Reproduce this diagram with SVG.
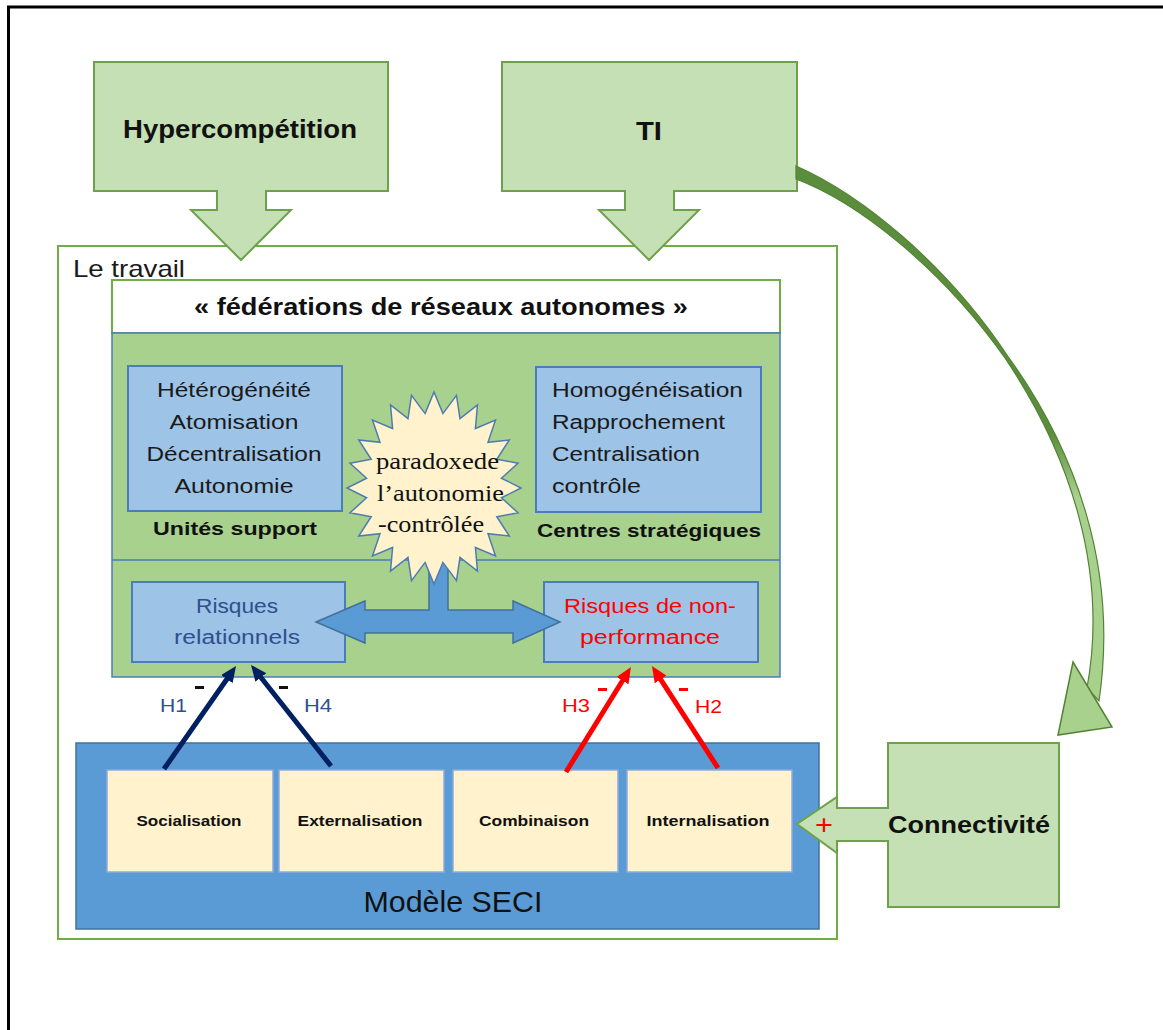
<svg xmlns="http://www.w3.org/2000/svg" width="1163" height="1030" viewBox="0 0 1163 1030">
<style>
.sans{font-family:"Liberation Sans",Arial,sans-serif}
.serif{font-family:"Liberation Serif","Times New Roman",serif}
.b{font-weight:bold}
.callout{fill:#c5e0b4;stroke:#6fa04a;stroke-width:2}
.bluebox{fill:#9dc3e6;stroke:#4a7ebb;stroke-width:2}
.yel{fill:#fff2cc;stroke:#8eaadb;stroke-width:1.5}
.navy{stroke:#002060;stroke-width:5;fill:none}
.red{stroke:#ff0000;stroke-width:5;fill:none}
</style>
<defs>
<marker id="mNavy" markerUnits="userSpaceOnUse" viewBox="0 0 16 14" markerWidth="16" markerHeight="14" refX="6" refY="7" orient="auto"><path d="M0,0 L16,7 L0,14 Z" fill="#002060"/></marker>
<marker id="mRed" markerUnits="userSpaceOnUse" viewBox="0 0 16 14" markerWidth="16" markerHeight="14" refX="6" refY="7" orient="auto"><path d="M0,0 L16,7 L0,14 Z" fill="#ff0000"/></marker>
<linearGradient id="curveGrad" gradientUnits="userSpaceOnUse" x1="0" y1="166" x2="0" y2="700">
<stop offset="0" stop-color="#5a8d3c"/><stop offset="0.5" stop-color="#5a8d3c"/><stop offset="0.62" stop-color="#a9d18e"/><stop offset="1" stop-color="#a9d18e"/>
</linearGradient>
</defs>
<rect width="1163" height="1030" fill="#ffffff"/>
<path d="M8.5,1030 V7 H1163" fill="none" stroke="#000" stroke-width="3"/>

<g id="le-travail">
<rect x="58" y="246" width="779" height="693" fill="#ffffff" stroke="#70ad47" stroke-width="2"/>
<text class="sans" x="73" y="277" font-size="24" textLength="112" lengthAdjust="spacingAndGlyphs" fill="#1a1a1a">Le travail</text>
</g>

<g id="federations">
<rect x="112" y="280" width="668" height="53" fill="#ffffff" stroke="#70ad47" stroke-width="2"/>
<rect x="112" y="333" width="668" height="344" fill="#a9d18e" stroke="#4a7ebb" stroke-width="1.5"/>
<line x1="112" y1="560" x2="780" y2="560" stroke="#4a7ebb" stroke-width="1.5"/>
<text class="sans b" x="441" y="315" font-size="23" text-anchor="middle" textLength="494" lengthAdjust="spacingAndGlyphs" fill="#111">« fédérations de réseaux autonomes »</text>
</g>

<g id="unites-support">
<rect class="bluebox" x="128" y="366" width="214" height="145"/>
<g class="sans" font-size="20" text-anchor="middle" fill="#1a1a1a">
<text x="234" y="397" textLength="154" lengthAdjust="spacingAndGlyphs">Hétérogénéité</text>
<text x="234" y="429" textLength="129" lengthAdjust="spacingAndGlyphs">Atomisation</text>
<text x="234" y="461" textLength="175" lengthAdjust="spacingAndGlyphs">Décentralisation</text>
<text x="234" y="493" textLength="119" lengthAdjust="spacingAndGlyphs">Autonomie</text>
</g>
<text class="sans b" x="235" y="535" font-size="19" text-anchor="middle" textLength="164" lengthAdjust="spacingAndGlyphs" fill="#111">Unités support</text>
</g>

<g id="centres-strategiques">
<rect class="bluebox" x="536" y="367" width="225" height="145"/>
<g class="sans" font-size="20" fill="#1a1a1a">
<text x="552" y="397" textLength="191" lengthAdjust="spacingAndGlyphs">Homogénéisation</text>
<text x="552" y="429" textLength="173" lengthAdjust="spacingAndGlyphs">Rapprochement</text>
<text x="552" y="461" textLength="148" lengthAdjust="spacingAndGlyphs">Centralisation</text>
<text x="552" y="493" textLength="89" lengthAdjust="spacingAndGlyphs">contrôle</text>
</g>
<text class="sans b" x="537" y="537" font-size="19" textLength="224" lengthAdjust="spacingAndGlyphs" fill="#111">Centres stratégiques</text>
</g>

<g id="risques-relationnels">
<rect class="bluebox" x="132" y="582" width="213" height="80"/>
<g class="sans" font-size="20" text-anchor="middle" fill="#2f4f8f">
<text x="237" y="613" textLength="82" lengthAdjust="spacingAndGlyphs">Risques</text>
<text x="237" y="644" textLength="126" lengthAdjust="spacingAndGlyphs">relationnels</text>
</g>
</g>

<g id="risques-non-performance">
<rect class="bluebox" x="544" y="582" width="214" height="80"/>
<g class="sans" font-size="20" text-anchor="middle" fill="#ff0000">
<text x="650" y="613" textLength="172" lengthAdjust="spacingAndGlyphs">Risques de non-</text>
<text x="650" y="644" textLength="140" lengthAdjust="spacingAndGlyphs">performance</text>
</g>
</g>

<g id="double-arrow">
<path d="M316,622 L365,601 L365,610 L429,610 L429,555 L448,555 L448,610 L513,610 L513,601 L560,622 L513,643 L513,633 L365,633 L365,643 Z" fill="#5b9bd5" stroke="#41719c" stroke-width="1.5"/>
</g>

<g id="paradoxe">
<polygon points="521,488 501.4,497.8 518,512.8 496.8,516.7 509.3,536 488,533.7 495.5,555.9 475.4,547.5 477.5,571.1 460,557.3 456.5,580.7 442.9,562.4 434,584 425.1,562.4 411.5,580.7 408,557.3 390.5,571.1 392.6,547.5 372.5,555.9 380,533.7 358.7,536 371.2,516.7 350,512.8 366.6,497.8 347,488 366.6,478.2 350,463.2 371.2,459.3 358.7,440 380,442.3 372.5,420.1 392.6,428.5 390.5,404.9 408,418.7 411.5,395.3 425.1,413.6 434,392 442.9,413.6 456.5,395.3 460,418.7 477.5,404.9 475.4,428.5 495.5,420.1 488,442.3 509.3,440 496.8,459.3 518,463.2 501.4,478.2" fill="#fff2cc" stroke="#4f7cae" stroke-width="1.5"/>
<g class="serif" font-size="24" fill="#111">
<text x="376" y="469" textLength="123" lengthAdjust="spacingAndGlyphs">paradoxede</text>
<text x="377" y="501" textLength="127" lengthAdjust="spacingAndGlyphs">l’autonomie</text>
<text x="378" y="532" textLength="106" lengthAdjust="spacingAndGlyphs">-contrôlée</text>
</g>
</g>

<g id="modele-seci">
<rect x="76" y="743" width="743" height="186" fill="#5b9bd5" stroke="#41719c" stroke-width="1.5"/>
<text class="sans" x="453" y="912" font-size="29" text-anchor="middle" textLength="179" lengthAdjust="spacingAndGlyphs" fill="#111">Modèle SECI</text>
</g>

<g id="socialisation">
<rect class="yel" x="107" y="770" width="166" height="102"/>
<text class="sans b" x="189" y="826" font-size="15" text-anchor="middle" textLength="105" lengthAdjust="spacingAndGlyphs" fill="#111">Socialisation</text>
</g>
<g id="externalisation">
<rect class="yel" x="279" y="770" width="165" height="102"/>
<text class="sans b" x="360" y="826" font-size="15" text-anchor="middle" textLength="125" lengthAdjust="spacingAndGlyphs" fill="#111">Externalisation</text>
</g>
<g id="combinaison">
<rect class="yel" x="453" y="770" width="165" height="102"/>
<text class="sans b" x="534" y="826" font-size="15" text-anchor="middle" textLength="110" lengthAdjust="spacingAndGlyphs" fill="#111">Combinaison</text>
</g>
<g id="internalisation">
<rect class="yel" x="627" y="770" width="165" height="102"/>
<text class="sans b" x="708" y="826" font-size="15" text-anchor="middle" textLength="123" lengthAdjust="spacingAndGlyphs" fill="#111">Internalisation</text>
</g>

<g id="hypercompetition">
<path class="callout" d="M94,62 H388 V191 H266 V210 H291 L241,260 L191,210 H217 V191 H94 Z"/>
<text class="sans b" x="240" y="138" font-size="25" text-anchor="middle" textLength="234" lengthAdjust="spacingAndGlyphs" fill="#111">Hypercompétition</text>
</g>

<g id="ti">
<path class="callout" d="M502,62 H797 V191 H674 V210 H699 L649,260 L599,210 H625 V191 H502 Z"/>
<text class="sans b" x="649" y="140" font-size="25" text-anchor="middle" textLength="26" lengthAdjust="spacingAndGlyphs" fill="#111">TI</text>
</g>

<g id="connectivite">
<path class="callout" d="M888,743 H1059 V907 H888 V841 H837 V853 L797,824 L837,797 V808 H888 Z"/>
<text class="sans b" x="888" y="833" font-size="24" textLength="162" lengthAdjust="spacingAndGlyphs" fill="#111">Connectivité</text>
<text class="sans" x="824" y="834" font-size="28" text-anchor="middle" textLength="18" lengthAdjust="spacingAndGlyphs" fill="#ff0000">+</text>
</g>

<g id="connectors">
<path d="M796,166 C860,194 945,262 1008,356.5 C1074,448 1119,566 1099,701 L1087,688 C1109,568 1068,452 1005.5,358.7 C941,267 857,202 796,179 Z" fill="url(#curveGrad)" stroke="#548235" stroke-width="1.2"/>
<polygon points="1073,662 1112,727 1058,735" fill="#a9d18e" stroke="#548235" stroke-width="1.5"/>
<line class="navy" x1="164" y1="769" x2="230.3" y2="674.2" marker-end="url(#mNavy)"/>
<line class="navy" x1="331" y1="766" x2="257.2" y2="672.8" marker-end="url(#mNavy)"/>
<line class="red" x1="566" y1="772" x2="625.7" y2="675.5" marker-end="url(#mRed)"/>
<line class="red" x1="718" y1="768" x2="657.4" y2="674.4" marker-end="url(#mRed)"/>
<g class="sans" font-size="19">
<text x="160" y="712" textLength="27" lengthAdjust="spacingAndGlyphs" fill="#2f4f8f">H1</text>
<text x="304" y="712" textLength="28" lengthAdjust="spacingAndGlyphs" fill="#2f4f8f">H4</text>
<text x="562" y="712" textLength="28" lengthAdjust="spacingAndGlyphs" fill="#ff0000">H3</text>
<text x="695" y="713" textLength="27" lengthAdjust="spacingAndGlyphs" fill="#ff0000">H2</text>
</g>
<g fill="#111">
<rect x="195" y="686" width="9" height="3"/>
<rect x="279" y="686" width="9" height="3"/>
</g>
<g fill="#ff0000">
<rect x="598" y="688" width="9" height="3"/>
<rect x="679" y="688" width="9" height="3"/>
</g>
</g>
</svg>
